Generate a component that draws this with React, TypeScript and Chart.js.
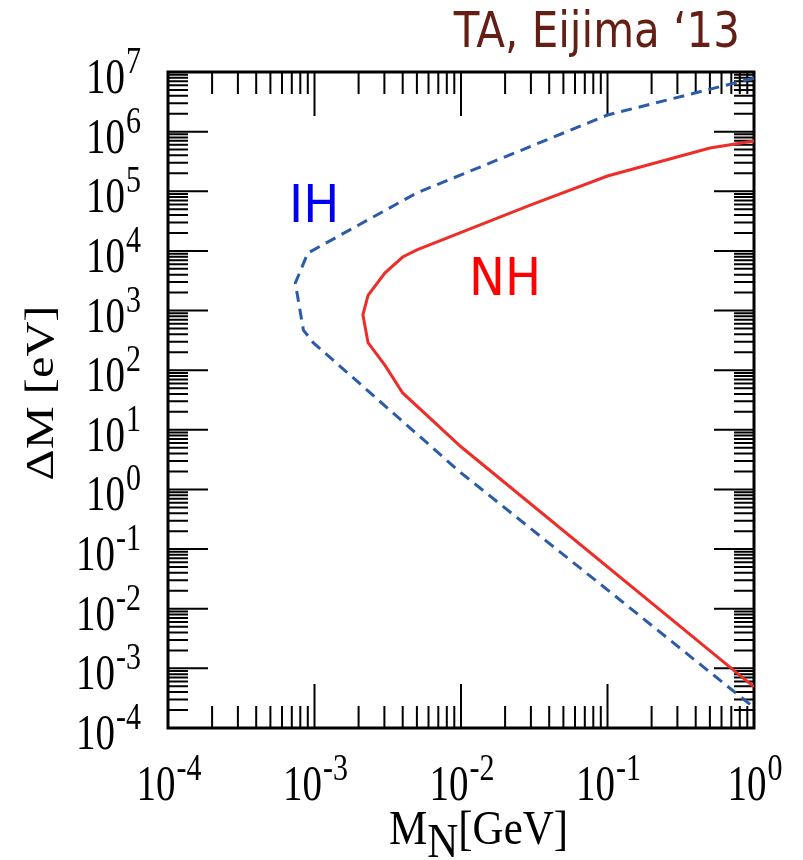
import React, { useEffect, useRef } from "react";
import { Chart, registerables } from "chart.js";

Chart.register(...registerables);

// ---- data ----
// IH: dashed blue contour, traced from the upper-right end round the nose to the lower-right end
const ihMass = [1.0, 0.1, 0.005, 0.0009, 0.00074, 0.00084, 0.00098, 0.01, 0.1, 1.0];
const ihDeltaM = [7.9e6, 1.9e6, 9.4e4, 9.2e3, 2.9e3, 4.7e2, 2.9e2, 1.9, 0.0207, 2.2e-4];
// NH: solid red contour
const nhMass = [1.0, 0.5, 0.1, 0.03, 0.005, 0.004, 0.00303, 0.00232, 0.00214, 0.00232, 0.00303, 0.004, 0.01, 1.0];
const nhDeltaM = [7.0e5, 5.3e5, 1.8e5, 5.9e4, 1.04e4, 7.9e3, 4.3e3, 1.8e3, 8.5e2, 2.9e2, 1.2e2, 41.5, 5.2, 4.9e-4];

const xTickExponents = [-4, -3, -2, -1, 0];
const yTickExponents = [-4, -3, -2, -1, 0, 1, 2, 3, 4, 5, 6, 7];
const minorMultipliers = [2, 3, 4, 5, 6, 7, 8, 9];

const titleText = "TA, Eijima \u201813";
const xTitleMain = "M";
const xTitleSub = "N";
const xTitleUnit = "[GeV]";
const yTitleText = "\u0394M [eV]";
const ihLabel = "IH";
const nhLabel = "NH";
// label anchors in data units [mass, deltaM]
const ihLabelAt = [6.7e-4, 3.05e4];
const nhLabelAt = [0.01135, 1.8e3];

const SERIF = "'Liberation Serif', 'Times New Roman', serif";
const SANS = "'DejaVu Sans', Verdana, sans-serif";

function toPoints(xs: number[], ys: number[]) {
  return xs.map((x, i) => ({ x, y: ys[i] }));
}

function stretchedText(
  ctx: CanvasRenderingContext2D,
  text: string,
  x: number,
  y: number,
  font: string,
  sy: number,
  align: CanvasTextAlign,
  color: string
) {
  ctx.save();
  ctx.translate(x, y);
  ctx.scale(1, sy);
  ctx.font = font;
  ctx.textAlign = align;
  ctx.textBaseline = "alphabetic";
  ctx.fillStyle = color;
  ctx.fillText(text, 0, 0);
  ctx.restore();
}

const BASE_FONT = `39px ${SERIF}`;
const EXP_FONT = `30px ${SERIF}`;
const BASE_SY = 1.3;
const EXP_SY = 1.25;

function powerLabel(
  ctx: CanvasRenderingContext2D,
  exp: number,
  anchorX: number,
  baseline: number,
  mode: "center" | "right"
) {
  const expStr = exp < 0 ? `-${-exp}` : `${exp}`;
  ctx.font = BASE_FONT;
  const wb = ctx.measureText("10").width;
  ctx.font = EXP_FONT;
  const we = ctx.measureText(expStr).width;
  const gap = 1;
  const w = wb + gap + we;
  const left = mode === "center" ? anchorX - w / 2 : anchorX - w;
  stretchedText(ctx, "10", left, baseline, BASE_FONT, BASE_SY, "left", "#000");
  stretchedText(ctx, expStr, left + wb + gap, baseline - 20, EXP_FONT, EXP_SY, "left", "#000");
}

const framePlugin = {
  id: "frameTicks",
  beforeDatasetsDraw(chart: any) {
    const ctx: CanvasRenderingContext2D = chart.ctx;
    const { left, right, top, bottom } = chart.chartArea;
    const xs = chart.scales.x;
    const ys = chart.scales.y;
    ctx.save();
    ctx.strokeStyle = "#000";
    ctx.lineCap = "butt";
    ctx.lineWidth = 2;
    // x ticks (top & bottom, pointing inward)
    for (let i = 0; i < xTickExponents.length; i++) {
      const e = xTickExponents[i];
      const px = xs.getPixelForValue(Math.pow(10, e));
      ctx.beginPath();
      ctx.moveTo(px, bottom);
      ctx.lineTo(px, bottom - 44);
      ctx.moveTo(px, top);
      ctx.lineTo(px, top + 44);
      ctx.stroke();
      if (i < xTickExponents.length - 1) {
        for (const m of minorMultipliers) {
          const qx = xs.getPixelForValue(m * Math.pow(10, e));
          ctx.beginPath();
          ctx.moveTo(qx, bottom);
          ctx.lineTo(qx, bottom - 22);
          ctx.moveTo(qx, top);
          ctx.lineTo(qx, top + 22);
          ctx.stroke();
        }
      }
    }
    // y ticks (left & right)
    for (let i = 0; i < yTickExponents.length; i++) {
      const e = yTickExponents[i];
      const py = ys.getPixelForValue(Math.pow(10, e));
      ctx.beginPath();
      ctx.moveTo(left, py);
      ctx.lineTo(left + 40, py);
      ctx.moveTo(right, py);
      ctx.lineTo(right - 40, py);
      ctx.stroke();
      if (i < yTickExponents.length - 1) {
        for (const m of minorMultipliers) {
          const qy = ys.getPixelForValue(m * Math.pow(10, e));
          ctx.beginPath();
          ctx.moveTo(left, qy);
          ctx.lineTo(left + 20, qy);
          ctx.moveTo(right, qy);
          ctx.lineTo(right - 20, qy);
          ctx.stroke();
        }
      }
    }
    // frame
    ctx.lineWidth = 3;
    ctx.strokeRect(left, top, right - left, bottom - top);
    ctx.restore();
  },
  afterDraw(chart: any) {
    const ctx: CanvasRenderingContext2D = chart.ctx;
    const { left, right, top, bottom } = chart.chartArea;
    const xs = chart.scales.x;
    const ys = chart.scales.y;
    // tick labels
    for (const e of xTickExponents) {
      const px = xs.getPixelForValue(Math.pow(10, e));
      powerLabel(ctx, e, px + 1, bottom + 72, "center");
    }
    for (const e of yTickExponents) {
      const py = ys.getPixelForValue(Math.pow(10, e));
      powerLabel(ctx, e, left - 27, py + 21, "right");
    }
    // x-axis title
    const tFont = `43px ${SERIF}`;
    ctx.font = tFont;
    const wM = ctx.measureText(xTitleMain).width;
    const wN = ctx.measureText(xTitleSub).width;
    const tx = 389;
    stretchedText(ctx, xTitleMain, tx, bottom + 116, tFont, 1.12, "left", "#000");
    stretchedText(ctx, xTitleSub, tx + wM, bottom + 129, tFont, 1.12, "left", "#000");
    stretchedText(ctx, xTitleUnit, tx + wM + wN, bottom + 116, tFont, 1.12, "left", "#000");
    // y-axis title (rotated)
    ctx.save();
    ctx.translate(42, (top + bottom) / 2 - 7);
    ctx.scale(1, 1.21);
    ctx.rotate(-Math.PI / 2);
    ctx.font = `40px ${SERIF}`;
    ctx.textAlign = "center";
    ctx.textBaseline = "middle";
    ctx.fillStyle = "#000";
    ctx.fillText(yTitleText, 0, 0);
    ctx.restore();
    // header
    stretchedText(ctx, titleText, right - 14, 47, `42px ${SANS}`, 1.2, "right", "#641E14");
    // curve labels
    stretchedText(
      ctx,
      ihLabel,
      xs.getPixelForValue(ihLabelAt[0]),
      ys.getPixelForValue(ihLabelAt[1]),
      `48px ${SANS}`,
      1.06,
      "left",
      "#0000F0"
    );
    stretchedText(
      ctx,
      nhLabel,
      xs.getPixelForValue(nhLabelAt[0]),
      ys.getPixelForValue(nhLabelAt[1]),
      `48px ${SANS}`,
      1.06,
      "left",
      "#FF0000"
    );
  },
};

export default function App() {
  const canvasRef = useRef<HTMLCanvasElement | null>(null);

  useEffect(() => {
    if (!canvasRef.current) return;
    const chart = new Chart(canvasRef.current, {
      type: "scatter",
      data: {
        datasets: [
          {
            label: "IH",
            data: toPoints(ihMass, ihDeltaM),
            showLine: true,
            borderColor: "#2B5BAA",
            borderWidth: 3,
            borderDash: [11, 7],
            pointRadius: 0,
            fill: false,
            tension: 0,
          },
          {
            label: "NH",
            data: toPoints(nhMass, nhDeltaM),
            showLine: true,
            borderColor: "#EE2D28",
            borderWidth: 3,
            pointRadius: 0,
            fill: false,
            tension: 0,
          },
        ],
      },
      options: {
        responsive: false,
        animation: false,
        layout: { padding: { left: 168, top: 72, right: 49, bottom: 132 } },
        plugins: {
          legend: { display: false },
          tooltip: { enabled: false },
          title: { display: false },
        },
        scales: {
          x: { type: "logarithmic", min: 1e-4, max: 1, display: false },
          y: { type: "logarithmic", min: 1e-4, max: 1e7, display: false },
        },
      },
      plugins: [framePlugin],
    });
    return () => chart.destroy();
  }, []);

  return (
    <div style={{ position: "absolute", left: 0, top: 0, width: 803, height: 860, background: "#fff" }}>
      <canvas ref={canvasRef} width={803} height={860} style={{ width: 803, height: 860, display: "block" }} />
    </div>
  );
}
